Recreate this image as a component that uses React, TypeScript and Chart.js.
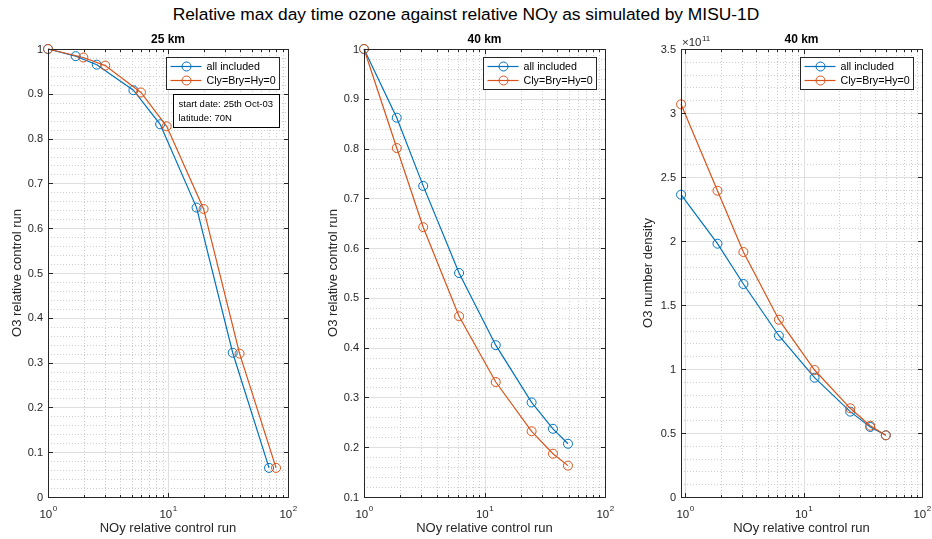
import React, { useEffect, useRef } from "react";
import { Chart, registerables } from "chart.js";

Chart.register(...registerables);

// ---------------- data ----------------
const FIG_TITLE = "Relative max day time ozone against relative NOy as simulated by MISU-1D";
const SERIES_NAMES = ["all included", "Cly=Bry=Hy=0"];
const SERIES_COLORS = ["#0072BD", "#D95319"];
const X_LABEL = "NOy relative control run";

// Panel 1: 25 km, relative ozone
const p1NoyAll = [1, 1.7, 2.55, 5.15, 8.6, 17.3, 34.6, 69.5];
const p1O3All = [1, 0.984, 0.965, 0.908, 0.832, 0.646, 0.322, 0.065];
const p1NoyNoHal = [1, 1.97, 3.0, 5.95, 9.75, 19.8, 39.5, 79.5];
const p1O3NoHal = [1, 0.981, 0.963, 0.903, 0.8275, 0.643, 0.32, 0.065];
const p1Note = ["start date: 25th Oct-03", "latitude: 70N"];

// Panel 2: 40 km, relative ozone
const p2Noy = [1, 1.87, 3.1, 6.15, 12.4, 24.6, 37, 49.3];
const p2O3All = [1, 0.862, 0.725, 0.55, 0.405, 0.29, 0.237, 0.207];
const p2O3NoHal = [1, 0.801, 0.642, 0.463, 0.331, 0.232, 0.187, 0.163];

// Panel 3: 40 km, ozone number density
const p3Noy = [0.926, 1.88, 3.11, 6.2, 12.4, 24.8, 36.6, 49.5];
const p3O3All = [2.362e11, 1.979e11, 1.664e11, 1.26e11, 0.932e11, 0.667e11, 0.547e11, 0.482e11];
const p3O3NoHal = [3.068e11, 2.393e11, 1.914e11, 1.385e11, 0.992e11, 0.693e11, 0.557e11, 0.482e11];

const PANEL_TITLES = ["25 km", "40 km", "40 km"];
const Y_LABELS = ["O3 relative control run", "O3 relative control run", "O3 number density"];

// ---------------- styling ----------------
const FONT = '"Liberation Sans", Arial, Helvetica, sans-serif';
const AXIS_COLOR = "#262626";

type Spec = {
  left: number;
  width: number;
  pad: { left: number; right: number; top: number; bottom: number };
  xMin: number;
  xMax: number;
  yMin: number;
  yMax: number;
  yMajor: number;
  yMinor: number;
  yFactor: number;
  exponent?: string;
  title: string;
  yLabel: string;
  yLabelOffset: number;
  note?: string[];
  series: { x: number[]; y: number[] }[];
};

const SPECS: Spec[] = [
  {
    left: 0, width: 310, pad: { left: 48, right: 22, top: 49, bottom: 42 },
    xMin: 1, xMax: 100, yMin: 0, yMax: 1, yMajor: 0.1, yMinor: 0.02, yFactor: 1,
    title: PANEL_TITLES[0], yLabel: Y_LABELS[0], yLabelOffset: 31, note: p1Note,
    series: [{ x: p1NoyAll, y: p1O3All }, { x: p1NoyNoHal, y: p1O3NoHal }],
  },
  {
    left: 310, width: 315, pad: { left: 54, right: 20, top: 49, bottom: 42 },
    xMin: 1, xMax: 100, yMin: 0.1, yMax: 1, yMajor: 0.1, yMinor: 0.02, yFactor: 1,
    title: PANEL_TITLES[1], yLabel: Y_LABELS[1], yLabelOffset: 31,
    series: [{ x: p2Noy, y: p2O3All }, { x: p2Noy, y: p2O3NoHal }],
  },
  {
    left: 625, width: 307, pad: { left: 56, right: 10, top: 49, bottom: 42 },
    xMin: 0.925, xMax: 100, yMin: 0, yMax: 3.5e11, yMajor: 0.5e11, yMinor: 0.1e11, yFactor: 1e11,
    exponent: "11",
    title: PANEL_TITLES[2], yLabel: Y_LABELS[2], yLabelOffset: 33,
    series: [{ x: p3Noy, y: p3O3All }, { x: p3Noy, y: p3O3NoHal }],
  },
];

function isMultiple(v: number, step: number) {
  const r = v / step;
  return Math.abs(r - Math.round(r)) < 1e-6;
}

function makePlugin(spec: Spec) {
  const yValues = (step: number) => {
    const out: number[] = [];
    const n = Math.round((spec.yMax - spec.yMin) / step);
    for (let k = 0; k <= n; k++) out.push(spec.yMin + k * step);
    return out;
  };
  const logMinor = () => {
    const out: number[] = [];
    for (let d = -1; d <= 2; d++) {
      for (let m = 2; m <= 9; m++) {
        const v = m * Math.pow(10, d);
        if (v > spec.xMin && v < spec.xMax) out.push(v);
      }
    }
    return out;
  };
  const logMajor = () => {
    const out: number[] = [];
    for (let d = -1; d <= 2; d++) {
      const v = Math.pow(10, d);
      if (v >= spec.xMin - 1e-9 && v <= spec.xMax + 1e-9) out.push(d);
    }
    return out;
  };

  return {
    id: "matlabAxes",
    beforeDatasetsDraw(chart: any) {
      const { ctx, chartArea: a, scales } = chart;
      const xs = scales.x;
      const ys = scales.y;
      ctx.save();
      ctx.lineWidth = 1;
      // minor grid (dotted)
      ctx.strokeStyle = "#cccccc";
      ctx.setLineDash([1, 2]);
      yValues(spec.yMinor).forEach((v) => {
        if (isMultiple(v, spec.yMajor)) return;
        const py = Math.round(ys.getPixelForValue(v)) + 0.5;
        ctx.beginPath();
        ctx.moveTo(a.left, py);
        ctx.lineTo(a.right, py);
        ctx.stroke();
      });
      logMinor().forEach((v) => {
        const px = Math.round(xs.getPixelForValue(v)) + 0.5;
        ctx.beginPath();
        ctx.moveTo(px, a.top);
        ctx.lineTo(px, a.bottom);
        ctx.stroke();
      });
      // major grid (solid)
      ctx.setLineDash([]);
      ctx.strokeStyle = "#dfdfdf";
      yValues(spec.yMajor).forEach((v) => {
        const py = Math.round(ys.getPixelForValue(v)) + 0.5;
        ctx.beginPath();
        ctx.moveTo(a.left, py);
        ctx.lineTo(a.right, py);
        ctx.stroke();
      });
      logMajor().forEach((d) => {
        const px = Math.round(xs.getPixelForValue(Math.pow(10, d))) + 0.5;
        ctx.beginPath();
        ctx.moveTo(px, a.top);
        ctx.lineTo(px, a.bottom);
        ctx.stroke();
      });
      ctx.restore();
    },
    afterDatasetsDraw(chart: any) {
      const { ctx, chartArea: a, scales } = chart;
      const xs = scales.x;
      const ys = scales.y;
      ctx.save();
      ctx.strokeStyle = AXIS_COLOR;
      ctx.fillStyle = AXIS_COLOR;
      ctx.lineWidth = 1;
      ctx.setLineDash([]);
      const L = Math.round(a.left) + 0.5;
      const R = Math.round(a.right) + 0.5;
      const T = Math.round(a.top) + 0.5;
      const B = Math.round(a.bottom) + 0.5;
      // ticks
      const major = 4.5;
      const minor = 2.5;
      ctx.beginPath();
      yValues(spec.yMajor).forEach((v) => {
        const py = Math.round(ys.getPixelForValue(v)) + 0.5;
        ctx.moveTo(L, py); ctx.lineTo(L + major, py);
        ctx.moveTo(R, py); ctx.lineTo(R - major, py);
      });
      logMajor().forEach((d) => {
        const px = Math.round(xs.getPixelForValue(Math.pow(10, d))) + 0.5;
        ctx.moveTo(px, B); ctx.lineTo(px, B - major);
        ctx.moveTo(px, T); ctx.lineTo(px, T + major);
      });
      logMinor().forEach((v) => {
        const px = Math.round(xs.getPixelForValue(v)) + 0.5;
        ctx.moveTo(px, B); ctx.lineTo(px, B - minor);
        ctx.moveTo(px, T); ctx.lineTo(px, T + minor);
      });
      ctx.stroke();
      // frame
      ctx.strokeRect(L, T, R - L, B - T);

      // y tick labels
      ctx.font = `11px ${FONT}`;
      ctx.textAlign = "right";
      ctx.textBaseline = "middle";
      yValues(spec.yMajor).forEach((v) => {
        const py = ys.getPixelForValue(v);
        const label = String(+(v / spec.yFactor).toFixed(2));
        ctx.fillText(label, a.left - 5, py + 0.5);
      });
      // x tick labels 10^d
      ctx.textAlign = "left";
      ctx.textBaseline = "alphabetic";
      logMajor().forEach((d) => {
        const px = xs.getPixelForValue(Math.pow(10, d));
        ctx.font = `11.5px ${FONT}`;
        const w1 = ctx.measureText("10").width;
        ctx.font = `8px ${FONT}`;
        const w2 = ctx.measureText(String(d)).width;
        const x0 = px - (w1 + w2) / 2;
        ctx.font = `11.5px ${FONT}`;
        ctx.fillText("10", x0, a.bottom + 21);
        ctx.font = `8px ${FONT}`;
        ctx.fillText(String(d), x0 + w1 + 0.5, a.bottom + 14);
      });
      // exponent label
      if (spec.exponent) {
        ctx.font = `11.5px ${FONT}`;
        const t = "\u00d710";
        const w = ctx.measureText(t).width;
        ctx.fillText(t, a.left + 1, a.top - 3);
        ctx.font = `8px ${FONT}`;
        ctx.fillText(spec.exponent, a.left + 1 + w + 0.5, a.top - 8);
      }
      // axis titles
      ctx.font = `13px ${FONT}`;
      ctx.textAlign = "center";
      ctx.textBaseline = "middle";
      ctx.fillText(X_LABEL, (a.left + a.right) / 2, a.bottom + 31);
      ctx.save();
      ctx.translate(a.left - spec.yLabelOffset, (a.top + a.bottom) / 2);
      ctx.rotate(-Math.PI / 2);
      ctx.fillText(spec.yLabel, 0, 0);
      ctx.restore();
      // panel title
      ctx.fillStyle = "#000000";
      ctx.font = `bold 12px ${FONT}`;
      ctx.fillText(spec.title, (a.left + a.right) / 2, a.top - 9);

      // legend
      const bw = 113;
      const bh = 32;
      const bx = Math.round(a.right - 9 - bw) + 0.5;
      const by = Math.round(a.top + 8) + 0.5;
      ctx.fillStyle = "#ffffff";
      ctx.fillRect(bx, by, bw, bh);
      ctx.strokeStyle = AXIS_COLOR;
      ctx.strokeRect(bx, by, bw, bh);
      ctx.font = `10.7px ${FONT}`;
      ctx.textAlign = "left";
      ctx.textBaseline = "middle";
      SERIES_NAMES.forEach((name, i) => {
        const cy = by + 9 + i * 14;
        ctx.strokeStyle = SERIES_COLORS[i];
        ctx.lineWidth = 1.2;
        ctx.beginPath();
        ctx.moveTo(bx + 4, cy);
        ctx.lineTo(bx + 35, cy);
        ctx.stroke();
        ctx.lineWidth = 1;
        ctx.beginPath();
        ctx.arc(bx + 20, cy, 4.5, 0, Math.PI * 2);
        ctx.stroke();
        ctx.fillStyle = "#000000";
        ctx.fillText(name, bx + 40, cy + 0.5);
      });

      // annotation
      if (spec.note) {
        const nw = 106;
        const nh = 33;
        const nx = Math.round(a.right - 9 - nw) + 0.5;
        const ny = Math.round(a.top + 45) + 0.5;
        ctx.fillStyle = "#ffffff";
        ctx.fillRect(nx, ny, nw, nh);
        ctx.strokeStyle = "#000000";
        ctx.lineWidth = 1;
        ctx.strokeRect(nx, ny, nw, nh);
        ctx.fillStyle = "#000000";
        ctx.font = `9.5px ${FONT}`;
        spec.note.forEach((line, i) => {
          ctx.fillText(line, nx + 5, ny + 10 + i * 14);
        });
      }
      ctx.restore();
    },
  };
}

function Panel({ spec }: { spec: Spec }) {
  const ref = useRef<HTMLCanvasElement | null>(null);
  useEffect(() => {
    if (!ref.current) return;
    const datasets = spec.series.map((s, i) => ({
      label: SERIES_NAMES[i],
      data: s.x.map((x, k) => ({ x, y: s.y[k] })),
      borderColor: SERIES_COLORS[i],
      borderWidth: 1.2,
      pointStyle: "circle",
      pointRadius: 4.5,
      pointBorderWidth: 1,
      pointBorderColor: SERIES_COLORS[i],
      pointBackgroundColor: "rgba(0,0,0,0)",
      backgroundColor: "rgba(0,0,0,0)",
      fill: false,
      tension: 0,
      clip: false as any,
      order: 1 - i,
    }));
    const chart = new Chart(ref.current, {
      type: "line",
      data: { datasets },
      options: {
        animation: false,
        responsive: false,
        devicePixelRatio: 1,
        layout: { padding: spec.pad },
        plugins: {
          legend: { display: false },
          title: { display: false },
          tooltip: { enabled: false },
        },
        scales: {
          x: { type: "logarithmic", min: spec.xMin, max: spec.xMax, display: false },
          y: { type: "linear", min: spec.yMin, max: spec.yMax, display: false },
        },
      },
      plugins: [makePlugin(spec) as any],
    });
    return () => chart.destroy();
  }, [spec]);
  return (
    <canvas
      ref={ref}
      width={spec.width}
      height={539}
      style={{ position: "absolute", left: spec.left, top: 0, width: spec.width, height: 539 }}
    />
  );
}

export default function App() {
  return (
    <div
      style={{
        position: "absolute",
        left: 0,
        top: 0,
        width: 932,
        height: 539,
        background: "#ffffff",
        overflow: "hidden",
      }}
    >
      <div
        style={{
          position: "absolute",
          left: 0,
          top: 4,
          width: 932,
          textAlign: "center",
          fontFamily: FONT,
          fontSize: 17.4,
          lineHeight: "20px",
          color: "#000000",
        }}
      >
        {FIG_TITLE}
      </div>
      {SPECS.map((s, i) => (
        <Panel key={i} spec={s} />
      ))}
    </div>
  );
}
